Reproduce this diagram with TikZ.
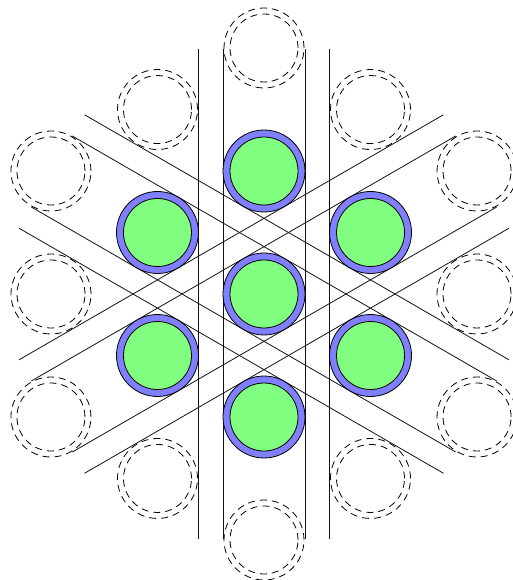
\documentclass[tikz,border=0pt]{standalone}
\usepackage{xcolor}
\usepackage{tikz}
\usetikzlibrary{calc}
\definecolor{rodblue}{RGB}{128,128,255}
\definecolor{rodgreen}{RGB}{128,255,128}
\definecolor{rodink}{HTML}{121212}

\begin{document}
\begin{tikzpicture}[x=1pt,y=1pt,
    channel/.style={draw=rodink,line width=0.8pt},
    rodclad/.style={draw=black,line width=0.8pt,fill=rodblue},
    rodcore/.style={draw=black,line width=0.8pt,fill=rodgreen},
    ghostrod/.style={draw=black,line width=0.8pt,dash pattern=on 7pt off 5pt}]
  \useasboundingbox (-264,-286) rectangle (249,294);
  % channel walls, three directions
  \foreach \r in {0,60,-60} {
    \foreach \o in {-65.5,-41,41,65.5} {
      \draw[channel,rotate=\r] (\o,-245) -- (\o,245);
    }
  }
  % outer ring, empty positions
  \foreach \a in {30,90,...,330} {
    \draw[ghostrod] (\a:246) circle (40);
    \draw[ghostrod] (\a:246) circle (34);
  }
  \foreach \a in {0,60,...,300} {
    \draw[ghostrod] (\a:213) circle (40);
    \draw[ghostrod] (\a:213) circle (34);
  }
  % filled rods
  \draw[rodclad] (0,0) circle (41);
  \draw[rodcore] (0,0) circle (34);
  \foreach \a in {30,90,...,330} {
    \draw[rodclad] (\a:123) circle (41);
    \draw[rodcore] (\a:123) circle (34);
  }
\end{tikzpicture}
\end{document}
